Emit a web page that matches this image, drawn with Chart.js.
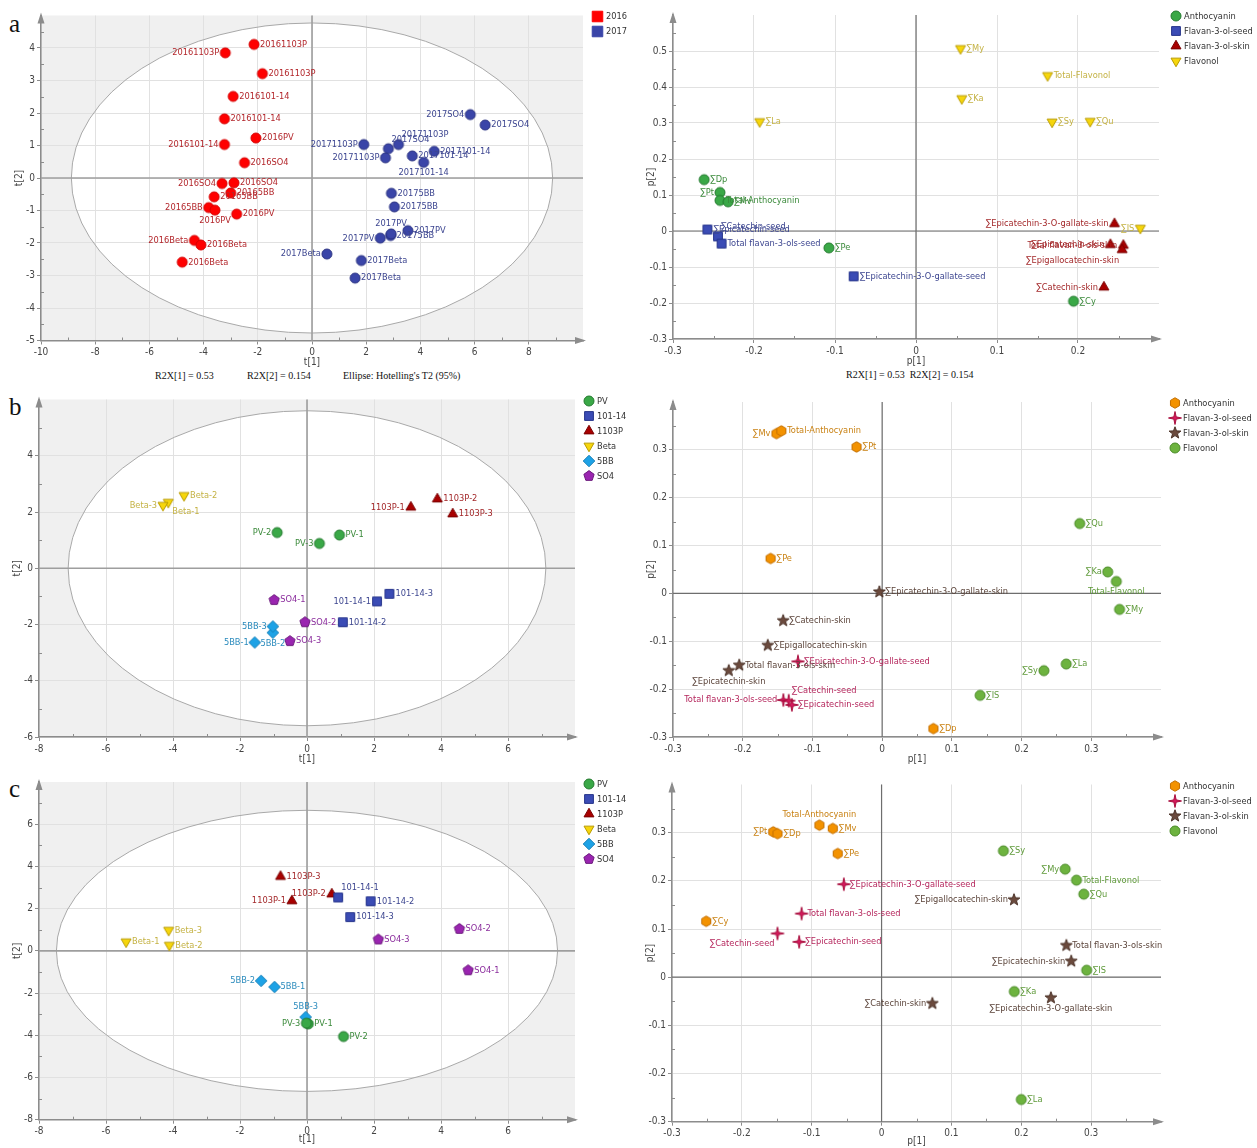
<!DOCTYPE html>
<html>
<head>
<meta charset="utf-8">
<script src="https://cdn.jsdelivr.net/npm/chart.js@4.4.0/dist/chart.umd.min.js"></script>
<style>
  body { margin: 0; background: #fff; width: 1257px; height: 1148px; position: relative; overflow: hidden; }
  canvas { position: absolute; }
  .tag { position: absolute; font-family: 'Liberation Serif', 'DejaVu Serif', serif; color: #111; white-space: pre; }
  .letter { font-size: 25px; line-height: 25px; }
  .note { font-size: 10px; line-height: 10px; }
</style>
</head>
<body>
<div class="tag letter" style="left:9px;top:11px">a</div>
<div class="tag letter" style="left:9px;top:394px">b</div>
<div class="tag letter" style="left:9px;top:776px">c</div>
<div class="tag note" style="left:155px;top:371px">R2X[1] = 0.53</div>
<div class="tag note" style="left:247px;top:371px">R2X[2] = 0.154</div>
<div class="tag note" style="left:343px;top:371px">Ellipse: Hotelling's T2 (95%)</div>
<div class="tag note" style="left:846px;top:370px">R2X[1] = 0.53  R2X[2] = 0.154</div>

<canvas id="pa1" width="640" height="385" style="left:0px;top:0px"></canvas>
<canvas id="pa2" width="627" height="385" style="left:630px;top:0px"></canvas>
<canvas id="pb1" width="640" height="385" style="left:0px;top:388px"></canvas>
<canvas id="pb2" width="627" height="385" style="left:630px;top:388px"></canvas>
<canvas id="pc1" width="640" height="376" style="left:0px;top:772px"></canvas>
<canvas id="pc2" width="627" height="376" style="left:630px;top:772px"></canvas>

<script>
// ---- data: (a) score plot, 2016 vs 2017
const aScoreCats = ['2016', '2017'];
const aScoreNames = ['20161103P', '20161103P', '20161103P', '2016101-14', '2016101-14', '2016PV', '2016101-14', '2016SO4', '2016SO4',
  '2016SO4', '20165BB', '20165BB', '20165BB', '2016PV', '2016PV', '2016Beta', '2016Beta', '2016Beta',
  '2017SO4', '2017SO4', '20171103P', '2017SO4', '20171103P', '20171103P', '2017101-14', '2017101-14', '2017101-14',
  '20175BB', '20175BB', '2017PV', '20175BB', '2017PV', '2017Beta', '2017Beta', '2017Beta', '2017PV'];
const aScoreT1 = [-2.14, -3.20, -1.83, -2.91, -3.23, -2.07, -3.23, -2.49, -3.32, -2.88, -3.00, -3.61, -3.81, -3.58, -2.78, -4.34, -4.10, -4.79,
  5.84, 6.39, 1.91, 2.82, 3.19, 2.71, 3.70, 4.51, 4.12, 2.93, 3.04, 3.54, 2.90, 2.52, 0.55, 1.82, 1.59, 2.92];
const aScoreT2 = [4.11, 3.85, 3.21, 2.51, 1.82, 1.23, 1.03, 0.47, -0.17, -0.15, -0.46, -0.58, -0.91, -0.99, -1.11, -1.92, -2.06, -2.59,
  1.95, 1.63, 1.03, 0.90, 1.03, 0.62, 0.68, 0.82, 0.48, -0.47, -0.89, -1.62, -1.77, -1.85, -2.34, -2.54, -3.08, -1.72];
const aScoreGroup = [0, 0, 0, 0, 0, 0, 0, 0, 0, 0, 0, 0, 0, 0, 0, 0, 0, 0, 1, 1, 1, 1, 1, 1, 1, 1, 1, 1, 1, 1, 1, 1, 1, 1, 1, 1];
const aScoreSide = ['r', 'l', 'r', 'r', 'r', 'r', 'l', 'r', 'l', 'r', 'r', 'r', 'l', 'b', 'r', 'l', 'r', 'r',
  'l', 'r', 'l', 'tr', 'tr', 'l', 'r', 'r', 'b', 'r', 'r', 'r', 'r', 'l', 'l', 'r', 'r', 't'];
const aScoreEllipse = [8.88, 4.77];

// ---- data: (a) loading plot
const loadCats = ['Anthocyanin', 'Flavan-3-ol-seed', 'Flavan-3-ol-skin', 'Flavonol'];
const aLoadNames = ['∑Dp', '∑Pt', 'Total-Anthocyanin', '∑Mv', '∑Pe', '∑Cy',
  '∑Epicatechin-seed', '∑Catechin-seed', 'Total flavan-3-ols-seed', '∑Epicatechin-3-O-gallate-seed',
  '∑Epicatechin-3-O-gallate-skin', '∑Epicatechin-skin', 'Total flavan-3-ols-skin', '∑Epigallocatechin-skin', '∑Catechin-skin',
  '∑My', 'Total-Flavonol', '∑Ka', '∑La', '∑Sy', '∑Qu', '∑IS'];
const aLoadP1 = [-0.2615, -0.242, -0.242, -0.232, -0.1075, 0.1945, -0.2575, -0.2445, -0.24, -0.077,
  0.245, 0.24, 0.256, 0.2545, 0.232, 0.055, 0.1625, 0.0565, -0.193, 0.168, 0.215, 0.277];
const aLoadP2 = [0.1426, 0.107, 0.085, 0.081, -0.047, -0.195, 0.004, -0.015, -0.035, -0.126,
  0.020, -0.038, -0.040, -0.052, -0.156, 0.507, 0.432, 0.368, 0.304, 0.303, 0.305, 0.008];
const aLoadGroup = [0, 0, 0, 0, 0, 0, 1, 1, 1, 1, 2, 2, 2, 2, 2, 3, 3, 3, 3, 3, 3, 3];
const aLoadSide = ['r', 'l', 'r', 'r', 'r', 'r', 'r', 'tr', 'r', 'r', 'l', 'l', 'l', 'bl', 'l', 'r', 'r', 'r', 'r', 'r', 'r', 'l'];

// ---- data: (b) score plot, rootstocks
const rootCats = ['PV', '101-14', '1103P', 'Beta', '5BB', 'SO4'];
const rootNames = ['PV-1', 'PV-2', 'PV-3', '101-14-1', '101-14-2', '101-14-3', '1103P-1', '1103P-2', '1103P-3',
  'Beta-1', 'Beta-2', 'Beta-3', '5BB-1', '5BB-2', '5BB-3', 'SO4-1', 'SO4-2', 'SO4-3'];
const rootGroup = [0, 0, 0, 1, 1, 1, 2, 2, 2, 3, 3, 3, 4, 4, 4, 5, 5, 5];
const bScoreT1 = [0.97, -0.89, 0.37, 2.09, 1.07, 2.46, 3.10, 3.89, 4.35, -4.14, -3.67, -4.30, -1.56, -1.02, -1.02, -0.98, -0.06, -0.51];
const bScoreT2 = [1.18, 1.27, 0.88, -1.18, -1.92, -0.91, 2.17, 2.46, 1.93, 2.35, 2.59, 2.24, -2.64, -2.29, -2.07, -1.13, -1.92, -2.59];
const bScoreSide = ['r', 'l', 'l', 'l', 'r', 'r', 'l', 'r', 'r', 'br', 'r', 'l', 'l', 'b', 'l', 'r', 'r', 'r'];
const bScoreEllipse = [7.13, 5.6];

// ---- data: (b) loading plot
const bLoadNames = ['∑Mv', 'Total-Anthocyanin', '∑Pt', '∑Pe', '∑Dp',
  '∑Epicatechin-3-O-gallate-seed', 'Total flavan-3-ols-seed', '∑Catechin-seed', '∑Epicatechin-seed',
  '∑Epicatechin-3-O-gallate-skin', '∑Catechin-skin', '∑Epigallocatechin-skin', 'Total flavan-3-ols-skin', '∑Epicatechin-skin',
  '∑Qu', '∑Ka', 'Total-Flavonol', '∑My', '∑La', '∑Sy', '∑IS'];
const bLoadP1 = [-0.1516, -0.1446, -0.0367, -0.160, 0.0735, -0.1207, -0.1417, -0.134, -0.1294,
  -0.004, -0.142, -0.164, -0.205, -0.220, 0.2834, 0.3236, 0.3359, 0.3405, 0.264, 0.232, 0.1405];
const bLoadP2 = [0.334, 0.3396, 0.306, 0.073, -0.2825, -0.142, -0.2227, -0.224, -0.233,
  0.003, -0.057, -0.1086, -0.150, -0.1614, 0.146, 0.045, 0.025, -0.0334, -0.1475, -0.1614, -0.213];
const bLoadGroup = [0, 0, 0, 0, 0, 1, 1, 1, 1, 2, 2, 2, 2, 2, 3, 3, 3, 3, 3, 3, 3];
const bLoadSide = ['l', 'r', 'r', 'r', 'r', 'r', 'l', 'tr', 'r', 'r', 'r', 'r', 'r', 'b', 'r', 'l', 'b', 'r', 'r', 'l', 'r'];

// ---- data: (c) score plot
const cScoreT1 = [0.04, 1.09, -0.02, 0.93, 1.90, 1.29, -0.45, 0.74, -0.79, -5.40, -4.11, -4.13, -0.97, -1.37, -0.04, 4.81, 4.55, 2.13];
const cScoreT2 = [-3.46, -4.06, -3.43, 2.53, 2.35, 1.60, 2.37, 2.69, 3.52, 0.43, 0.27, 0.98, -1.71, -1.42, -3.14, -0.92, 1.04, 0.54];
const cScoreSide = ['r', 'r', 'l', 'tr', 'r', 'r', 'l', 'l', 'r', 'r', 'r', 'r', 'r', 'l', 't', 'r', 'r', 'r'];
const cScoreEllipse = [7.48, 6.66];

// ---- data: (c) loading plot
const cLoadNames = ['Total-Anthocyanin', '∑Mv', '∑Pt', '∑Dp', '∑Pe', '∑Cy',
  '∑Epicatechin-3-O-gallate-seed', 'Total flavan-3-ols-seed', '∑Catechin-seed', '∑Epicatechin-seed',
  '∑Epigallocatechin-skin', 'Total flavan-3-ols-skin', '∑Epicatechin-skin', '∑Catechin-skin', '∑Epicatechin-3-O-gallate-skin',
  '∑Sy', '∑My', 'Total-Flavonol', '∑Qu', '∑IS', '∑Ka', '∑La'];
const cLoadP1 = [-0.089, -0.0698, -0.155, -0.149, -0.0628, -0.251, -0.054, -0.1145, -0.149, -0.118,
  0.1895, 0.2645, 0.2715, 0.0727, 0.2424, 0.1744, 0.2628, 0.279, 0.2895, 0.2936, 0.190, 0.200];
const cLoadP2 = [0.3156, 0.3087, 0.3017, 0.298, 0.2567, 0.116, 0.193, 0.132, 0.0907, 0.0734,
  0.1606, 0.0657, 0.0332, -0.0547, -0.0429, 0.2623, 0.2242, 0.2014, 0.1723, 0.0145, -0.0298, -0.254];
const cLoadGroup = [0, 0, 0, 0, 0, 0, 1, 1, 1, 1, 2, 2, 2, 2, 2, 3, 3, 3, 3, 3, 3, 3];
const cLoadSide = ['t', 'r', 'l', 'r', 'r', 'r', 'r', 'r', 'bl', 'r', 'l', 'r', 'l', 'l', 'b', 'r', 'l', 'r', 'r', 'r', 'r', 'r'];

// axis ranges [min, max, step]
const scoreARange = { x: [-10, 10, 2], y: [-5, 5, 1] };
const loadARange = { x: [-0.3, 0.3, 0.1], y: [-0.3, 0.6, 0.1] };
const scoreBRange = { x: [-8, 8, 2], y: [-6, 6, 2] };
const scoreCRange = { x: [-8, 8, 2], y: [-8, 8, 2] };
const loadBCRange = { x: [-0.3, 0.4, 0.1], y: [-0.3, 0.4, 0.1] };

// ---- styles
const NARROW = "'Liberation Sans Narrow', 'DejaVu Sans Condensed', 'Arial Narrow', sans-serif";
const LABEL_FONT = '9.2px ' + NARROW;

const yearStyles = [
  { shape: 'circle', fill: '#ff0000', stroke: '#d40000', text: '#b3262b', legend: 'square' },
  { shape: 'circle', fill: '#3a45a8', stroke: '#283080', text: '#3c4590', legend: 'square' }
];
const loadAStyles = [
  { shape: 'circle', fill: '#3aa847', stroke: '#23792e', text: '#3b8a3b' },
  { shape: 'square', fill: '#3b4cb5', stroke: '#26348a', text: '#3d4690' },
  { shape: 'triangle', fill: '#a80000', stroke: '#7a0000', text: '#a3282a' },
  { shape: 'triangleDown', fill: '#f6d60c', stroke: '#b99b00', text: '#c4b244' }
];
const rootStyles = [
  { shape: 'circle', fill: '#3aa847', stroke: '#23792e', text: '#3b8a3b' },
  { shape: 'square', fill: '#3b4cb5', stroke: '#26348a', text: '#3d4690' },
  { shape: 'triangle', fill: '#a80000', stroke: '#7a0000', text: '#a3282a' },
  { shape: 'triangleDown', fill: '#f6d60c', stroke: '#b99b00', text: '#c4b244' },
  { shape: 'diamond', fill: '#1da2e6', stroke: '#147fb8', text: '#2b8bbd' },
  { shape: 'pentagon', fill: '#9a25b0', stroke: '#6c1a7d', text: '#8b2d9d' }
];
const loadBCStyles = [
  { shape: 'hexagon', fill: '#f39200', stroke: '#c36f00', text: '#c98214' },
  { shape: 'sparkle', fill: '#d5195c', stroke: '#a8103f', text: '#b5275d' },
  { shape: 'star', fill: '#6b4a3d', stroke: '#4a3127', text: '#5b443a' },
  { shape: 'circle', fill: '#6db33f', stroke: '#4a8a27', text: '#5f9a3a' }
];

function shapePath(ctx, shape, r) {
  ctx.beginPath();
  if (shape === 'circle') { ctx.arc(0, 0, r, 0, Math.PI * 2); return; }
  if (shape === 'square') { ctx.rect(-r * 0.88, -r * 0.88, r * 1.76, r * 1.76); return; }
  const pts = [];
  const poly = (n, rad, rot) => {
    for (let i = 0; i < n; i++) { const a = rot + i * 2 * Math.PI / n; pts.push([rad * Math.cos(a), rad * Math.sin(a)]); }
  };
  const starp = (n, ro, ri, rot) => {
    for (let i = 0; i < 2 * n; i++) { const a = rot + i * Math.PI / n; const rr = i % 2 ? ri : ro; pts.push([rr * Math.cos(a), rr * Math.sin(a)]); }
  };
  if (shape === 'triangle') poly(3, r * 1.15, -Math.PI / 2);
  if (shape === 'triangleDown') poly(3, r * 1.15, Math.PI / 2);
  if (shape === 'diamond') poly(4, r * 1.15, -Math.PI / 2);
  if (shape === 'pentagon') poly(5, r * 1.08, -Math.PI / 2);
  if (shape === 'hexagon') poly(6, r * 1.05, -Math.PI / 2);
  if (shape === 'sparkle') starp(4, r * 1.3, r * 0.33, -Math.PI / 2);
  if (shape === 'star') starp(5, r * 1.25, r * 0.52, -Math.PI / 2);
  pts.forEach((p, i) => i ? ctx.lineTo(p[0], p[1]) : ctx.moveTo(p[0], p[1]));
  ctx.closePath();
}

function marker(shape, d, fill, stroke) {
  const size = Math.ceil(d * 1.4) + 2;
  const c = document.createElement('canvas');
  c.width = size; c.height = size;
  const ctx = c.getContext('2d');
  ctx.translate(size / 2, size / 2);
  shapePath(ctx, shape, d / 2);
  ctx.fillStyle = fill; ctx.fill();
  ctx.lineWidth = 1; ctx.strokeStyle = stroke; ctx.stroke();
  return c;
}

const OFF = {
  r: [6, 0, 'left', 'middle'], l: [-6, 0, 'right', 'middle'],
  t: [0, -6, 'center', 'bottom'], b: [0, 6, 'center', 'top'],
  tr: [3, -5, 'left', 'bottom'], br: [4, 5, 'left', 'top'],
  bl: [-3, 6, 'right', 'top'], tl: [-3, -5, 'right', 'bottom']
};

function makeDecor(p) {
  return {
    id: 'decor',
    beforeDraw(chart) {
      const { ctx, chartArea: a, scales: { x, y } } = chart;
      ctx.save();
      ctx.fillStyle = p.ellipse ? '#f0f0f0' : '#ffffff';
      ctx.fillRect(a.left, a.top, a.right - a.left, a.bottom - a.top);
      if (p.ellipse) {
        const cx = x.getPixelForValue(0), cy = y.getPixelForValue(0);
        ctx.beginPath();
        ctx.ellipse(cx, cy, x.getPixelForValue(p.ellipse[0]) - cx, cy - y.getPixelForValue(p.ellipse[1]), 0, 0, Math.PI * 2);
        ctx.fillStyle = '#ffffff';
        ctx.fill();
      }
      ctx.restore();
    },
    beforeDatasetsDraw(chart) {
      const { ctx, chartArea: a, scales: { x, y } } = chart;
      ctx.save();
      if (p.ellipse) {
        const cx = x.getPixelForValue(0), cy = y.getPixelForValue(0);
        ctx.beginPath();
        ctx.ellipse(cx, cy, x.getPixelForValue(p.ellipse[0]) - cx, cy - y.getPixelForValue(p.ellipse[1]), 0, 0, Math.PI * 2);
        ctx.strokeStyle = '#a9a9a9'; ctx.lineWidth = 1; ctx.stroke();
      }
      // zero lines
      const x0 = x.getPixelForValue(0), y0 = y.getPixelForValue(0);
      ctx.strokeStyle = p.ellipse ? '#9e9e9e' : '#6e6e6e';
      ctx.lineWidth = p.ellipse ? 1.6 : 1.2;
      ctx.beginPath();
      ctx.moveTo(x0, a.top); ctx.lineTo(x0, a.bottom);
      ctx.moveTo(a.left, y0); ctx.lineTo(a.right, y0);
      ctx.stroke();
      // minor ticks, inside the plot
      ctx.strokeStyle = '#8c8c8c'; ctx.lineWidth = 1;
      ctx.beginPath();
      x.ticks.forEach(t => {
        const v = t.value + p.xr[2] / 2;
        if (v < p.xr[1]) { const px = Math.round(x.getPixelForValue(v)) + 0.5; ctx.moveTo(px, a.bottom); ctx.lineTo(px, a.bottom - 3); }
      });
      y.ticks.forEach(t => {
        const v = t.value + p.yr[2] / 2;
        if (v < p.yr[1]) { const py = Math.round(y.getPixelForValue(v)) + 0.5; ctx.moveTo(a.left, py); ctx.lineTo(a.left + 3, py); }
      });
      ctx.stroke();
      // arrow heads
      ctx.fillStyle = '#8c8c8c';
      ctx.beginPath();
      ctx.moveTo(a.left, a.top - 3); ctx.lineTo(a.left - 3.5, a.top + 8); ctx.lineTo(a.left + 3.5, a.top + 8); ctx.closePath();
      ctx.moveTo(a.right + 3, a.bottom); ctx.lineTo(a.right - 8, a.bottom - 3.5); ctx.lineTo(a.right - 8, a.bottom + 3.5); ctx.closePath();
      ctx.fill();
      ctx.restore();
    },
    afterDatasetsDraw(chart) {
      const { ctx, scales: { x, y } } = chart;
      ctx.save();
      ctx.font = LABEL_FONT;
      p.names.forEach((name, i) => {
        const o = OFF[p.side[i]];
        ctx.fillStyle = p.styles[p.grp[i]].text;
        ctx.textAlign = o[2]; ctx.textBaseline = o[3];
        ctx.fillText(name, x.getPixelForValue(p.xs[i]) + o[0], y.getPixelForValue(p.ys[i]) + o[1]);
      });
      ctx.restore();
    },
    afterDraw(chart) {
      const { ctx } = chart;
      ctx.save();
      ctx.font = LABEL_FONT;
      ctx.fillStyle = '#333';
      ctx.textAlign = 'left'; ctx.textBaseline = 'middle';
      p.cats.forEach((c, g) => {
        const lx = p.legend[0] - p.box[0], ly = p.legend[1] - p.box[1] + g * 15;
        const st = p.styles[g];
        const img = st.legend ? marker(st.legend, 12, st.fill, st.fill) : p.markers[g];
        ctx.drawImage(img, Math.round(lx - img.width / 2), Math.round(ly - img.height / 2));
        ctx.fillText(c, lx + (st.legend ? 9 : 8), ly + 0.5);
      });
      ctx.restore();
    }
  };
}

function axis(r, title, dir, size) {
  const [min, max, step] = r;
  return {
    type: 'linear', min, max,
    ticks: {
      stepSize: step, color: '#444', font: { family: NARROW, size: 10 }, padding: 2,
      maxRotation: 0, minRotation: 0, autoSkip: false,
      callback: v => String(+(+v).toFixed(2))
    },
    grid: { color: '#e1e1e1', lineWidth: 1, tickLength: 4, tickColor: '#8c8c8c' },
    border: { color: '#8c8c8c', width: 1.5 },
    title: { display: true, text: title, color: '#444', font: { family: NARROW, size: 10 }, padding: 0 },
    afterBuildTicks: s => { s.ticks = s.ticks.filter(t => t.value < max - step / 1000); },
    afterFit: s => { if (dir === 'x') s.height = size; else s.width = size; }
  };
}

function buildPanel(p) {
  const [bx, by, bw, bh] = p.box;
  const [al, at, ar, ab] = p.area;
  const W = 28, H = p.xh;
  p.markers = p.styles.map(s => marker(s.shape, 10, s.fill, s.stroke));
  const datasets = p.cats.map((c, g) => ({
    label: c,
    data: p.xs.map((v, i) => ({ x: v, y: p.ys[i], g: p.grp[i] })).filter(d => d.g === g),
    pointStyle: p.markers[g],
    pointRadius: 5,
    pointHoverRadius: 5
  }));
  new Chart(document.getElementById(p.id), {
    type: 'scatter',
    data: { datasets },
    options: {
      responsive: false, animation: false, devicePixelRatio: 1,
      layout: { autoPadding: false, padding: { left: al - bx - W, top: at - by, right: bx + bw - ar, bottom: by + bh - ab - H } },
      plugins: { legend: { display: false }, tooltip: { enabled: false } },
      scales: { x: axis(p.xr, p.xt, 'x', H), y: axis(p.yr, p.yt, 'y', W) }
    },
    plugins: [makeDecor(p)]
  });
}

const panels = [
  { id: 'pa1', box: [0, 0, 640, 385], area: [41, 15.5, 583, 340.5], xh: 28, xr: scoreARange.x, yr: scoreARange.y, xt: 't[1]', yt: 't[2]',
    ellipse: aScoreEllipse, cats: aScoreCats, styles: yearStyles, names: aScoreNames, xs: aScoreT1, ys: aScoreT2, grp: aScoreGroup, side: aScoreSide, legend: [597, 16] },
  { id: 'pa2', box: [630, 0, 627, 385], area: [673, 15, 1159, 339], xh: 28, xr: loadARange.x, yr: loadARange.y, xt: 'p[1]', yt: 'p[2]',
    ellipse: null, cats: loadCats, styles: loadAStyles, names: aLoadNames, xs: aLoadP1, ys: aLoadP2, grp: aLoadGroup, side: aLoadSide, legend: [1176, 16] },
  { id: 'pb1', box: [0, 388, 640, 385], area: [39, 399.5, 575, 737], xh: 28, xr: scoreBRange.x, yr: scoreBRange.y, xt: 't[1]', yt: 't[2]',
    ellipse: bScoreEllipse, cats: rootCats, styles: rootStyles, names: rootNames, xs: bScoreT1, ys: bScoreT2, grp: rootGroup, side: bScoreSide, legend: [589, 401] },
  { id: 'pb2', box: [630, 388, 627, 385], area: [673, 402, 1161, 737], xh: 28, xr: loadBCRange.x, yr: loadBCRange.y, xt: 'p[1]', yt: 'p[2]',
    ellipse: null, cats: loadCats, styles: loadBCStyles, names: bLoadNames, xs: bLoadP1, ys: bLoadP2, grp: bLoadGroup, side: bLoadSide, legend: [1175, 403] },
  { id: 'pc1', box: [0, 772, 640, 376], area: [39, 782, 575, 1119.7], xh: 26, xr: scoreCRange.x, yr: scoreCRange.y, xt: 't[1]', yt: 't[2]',
    ellipse: cScoreEllipse, cats: rootCats, styles: rootStyles, names: rootNames, xs: cScoreT1, ys: cScoreT2, grp: rootGroup, side: cScoreSide, legend: [589, 784] },
  { id: 'pc2', box: [630, 772, 627, 376], area: [672, 784.5, 1161, 1121.7], xh: 26, xr: loadBCRange.x, yr: loadBCRange.y, xt: 'p[1]', yt: 'p[2]',
    ellipse: null, cats: loadCats, styles: loadBCStyles, names: cLoadNames, xs: cLoadP1, ys: cLoadP2, grp: cLoadGroup, side: cLoadSide, legend: [1175, 786] }
];

panels.forEach(buildPanel);
</script>
</body>
</html>
